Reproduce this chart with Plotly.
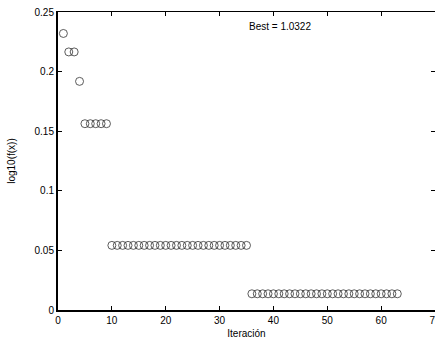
import plotly.graph_objects as go

iterations = list(range(1, 64))
values = ([0.232, 0.2165, 0.2165, 0.1918] + [0.1563] * 5 + [0.0542] * 26 + [0.0136] * 28)
x_ticks = [0, 10, 20, 30, 40, 50, 60, 70]
y_ticks = [0, 0.05, 0.1, 0.15, 0.2, 0.25]
y_tick_labels = ["0", "0.05", "0.1", "0.15", "0.2", "0.25"]
best_text = "Best = 1.0322"

font = dict(family="Liberation Sans, Arial, Helvetica", size=10, color="black")

fig = go.Figure()
fig.add_trace(go.Scatter(
    x=iterations, y=values, mode="markers",
    marker=dict(symbol="circle-open", size=8, color="#333333", line=dict(width=0.8)),
    showlegend=False, cliponaxis=False))
# mirrored thin axes for top/right
fig.add_trace(go.Scatter(x=[None], y=[None], xaxis="x2", yaxis="y2", showlegend=False))

fig.add_annotation(x=35, y=0.238, text=best_text, showarrow=False, xanchor="left",
                   yanchor="middle", font=font)

fig.update_layout(
    width=435, height=341,
    margin=dict(l=58, r=0, t=12, b=31, autoexpand=False),
    paper_bgcolor="white", plot_bgcolor="white",
    font=font,
    xaxis=dict(range=[0, 70], tickvals=x_ticks, ticks="inside", ticklen=4, tickcolor="black",
               showline=True, linewidth=2, linecolor="black", showgrid=False, zeroline=False,
               automargin=False, ticklabeloverflow="allow",
               title=dict(text="Iteración", standoff=5, font=dict(size=10)), tickfont=dict(size=10)),
    yaxis=dict(range=[0, 0.25], tickvals=y_ticks, ticktext=y_tick_labels, ticks="inside", ticklen=4,
               tickcolor="black", showline=True, linewidth=2, linecolor="black", showgrid=False,
               zeroline=False, automargin=False, ticklabeloverflow="allow",
               title=dict(text="log10(f(x))", standoff=17, font=dict(size=10)),
               tickfont=dict(size=10)),
    xaxis2=dict(range=[0, 70], tickvals=x_ticks, ticks="inside", ticklen=4, tickcolor="black",
                showline=True, linewidth=1, linecolor="black", showgrid=False, zeroline=False,
                overlaying="x", side="top", showticklabels=False, automargin=False),
    yaxis2=dict(range=[0, 0.25], tickvals=y_ticks, ticks="inside", ticklen=4, tickcolor="black",
                showline=False, showgrid=False, zeroline=False,
                overlaying="y", side="right", showticklabels=False, automargin=False),
)

fig.write_html("out.html", config={"displayModeBar": False},
               post_script="document.body.style.margin='0';document.body.style.overflow='hidden';")
